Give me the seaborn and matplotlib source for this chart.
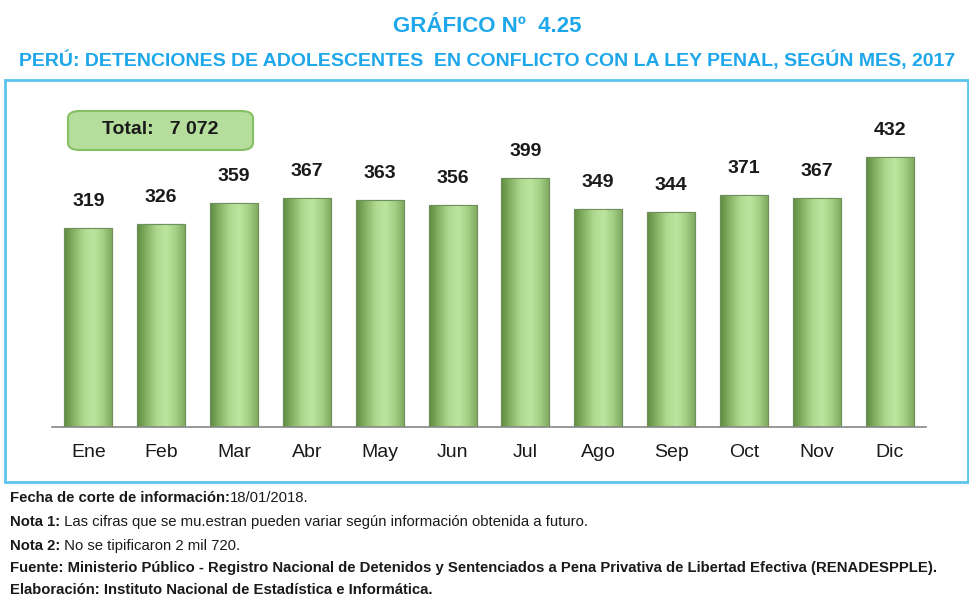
import matplotlib
matplotlib.use("Agg")
import matplotlib.pyplot as plt
import seaborn as sns
import numpy as np
import pandas as pd
from matplotlib.colors import LinearSegmentedColormap
from matplotlib.patches import FancyBboxPatch, Rectangle

months = ["Ene", "Feb", "Mar", "Abr", "May", "Jun", "Jul", "Ago", "Sep", "Oct", "Nov", "Dic"]
values = [319, 326, 359, 367, 363, 356, 399, 349, 344, 371, 367, 432]
total_label = "Total:   7 072"
title1 = "GRÁFICO Nº  4.25"
title2 = "PERÚ: DETENCIONES DE ADOLESCENTES  EN CONFLICTO CON LA LEY PENAL, SEGÚN MES, 2017"
notes = [
    ("Fecha de corte de información:", "18/01/2018."),
    ("Nota 1:", " Las cifras que se mu.estran pueden variar según información obtenida a futuro."),
    ("Nota 2:", " No se tipificaron 2 mil 720."),
    ("Fuente: Ministerio Público - Registro Nacional de Detenidos y Sentenciados a Pena Privativa de Libertad Efectiva (RENADESPPLE).", ""),
    ("Elaboración: Instituto Nacional de Estadística e Informática.", ""),
]

sns.set_style("white")
FONT = ["Liberation Sans", "DejaVu Sans"]
plt.rcParams["font.family"] = FONT

df = pd.DataFrame({"mes": months, "valor": values})

fig = plt.figure(figsize=(9.7, 5.96), dpi=100)
ax = fig.add_axes([52/970, 1-427/596, 874/970, 317/596])

sns.barplot(data=df, x="mes", y="valor", ax=ax, width=0.66, color="#9cc97c",
            edgecolor="#6f8f5c", linewidth=0.8, zorder=2)

cmap = LinearSegmentedColormap.from_list("cyl", ["#5f8a42", "#86b364", "#aed88f", "#bce6a0", "#a3cf84", "#7aa55a"])
grad = np.linspace(0, 1, 256).reshape(1, -1)
for p in list(ax.patches):
    x0, y0 = p.get_x(), p.get_y()
    w, h = p.get_width(), p.get_height()
    im = ax.imshow(grad, extent=(x0, x0 + w, y0, y0 + h), aspect="auto", cmap=cmap, zorder=2.5)
    im.set_clip_path(p)
    ax.add_patch(Rectangle((x0, y0), w, h, fill=False, edgecolor="#6f8f5c", lw=0.8, zorder=3))
ax.set_xlim(-0.5, 11.5)
ax.set_ylim(0, 508)

for i, v in enumerate(values):
    ax.annotate(f"{v}", (i, v), xytext=(0, 13), textcoords="offset points",
                ha="center", va="bottom", fontsize=14, fontweight="bold", color="#1a1a1a")

for s in ["top", "right", "left"]:
    ax.spines[s].set_visible(False)
ax.spines["bottom"].set_color("#888888")
ax.spines["bottom"].set_linewidth(1.2)
ax.set_yticks([])
ax.set_xlabel("")
ax.set_ylabel("")
ax.set_xticks(np.arange(-0.5, 12, 1), minor=True)
ax.tick_params(axis="x", which="minor", length=4, color="#888888", width=1, direction="out")
ax.tick_params(axis="x", which="major", length=0, pad=12, labelsize=14, labelcolor="#1a1a1a")

# Total box
box = FancyBboxPatch((68/970, 1-150/596), 185/970, 39/596, boxstyle="round,pad=0,rounding_size=0.012",
                     transform=fig.transFigure, facecolor="#b5dd9c", edgecolor="#86c065", lw=1.5)
fig.patches.append(box)
fig.text(160/970, 1-130/596, total_label, ha="center", va="center", fontsize=14,
         fontweight="bold", color="#1a1a1a")

# Border
border = Rectangle((5/970, 1-482/596), 963/970, 402/596, transform=fig.transFigure,
                   fill=False, edgecolor="#5cc3ee", lw=2)
fig.patches.append(border)

rend = fig.canvas.get_renderer()

# Titles
tcol = "#1ea7ea"
fig.text(487/970, 1-26/596, title1, ha="center", va="center", fontsize=16, fontweight="bold", color=tcol)
t2 = fig.text(487/970, 1-60/596, title2, ha="center", va="center", fontsize=16, fontweight="bold", color=tcol)
fs = 16.0
while t2.get_window_extent(rend).width > 944 and fs > 8:
    fs -= 0.25
    t2.set_fontsize(fs)

# Notes: fit the longest line to the width
probe = fig.text(10/970, 0.5, notes[3][0], fontsize=12, fontweight="bold")
nfs = 12.0
while probe.get_window_extent(rend).width > 952 and nfs > 6:
    nfs -= 0.25
    probe.set_fontsize(nfs)
probe.remove()

ys = [502, 526, 550, 572, 594]
for (b, r), y in zip(notes, ys):
    t = fig.text(10/970, 1-y/596, b, ha="left", va="baseline", fontsize=nfs, fontweight="bold", color="#1a1a1a")
    if r:
        x1 = t.get_window_extent(rend).x1
        fig.text(x1/970, 1-y/596, r, ha="left", va="baseline", fontsize=nfs, color="#1a1a1a")

fig.savefig("out.png", dpi=100)
